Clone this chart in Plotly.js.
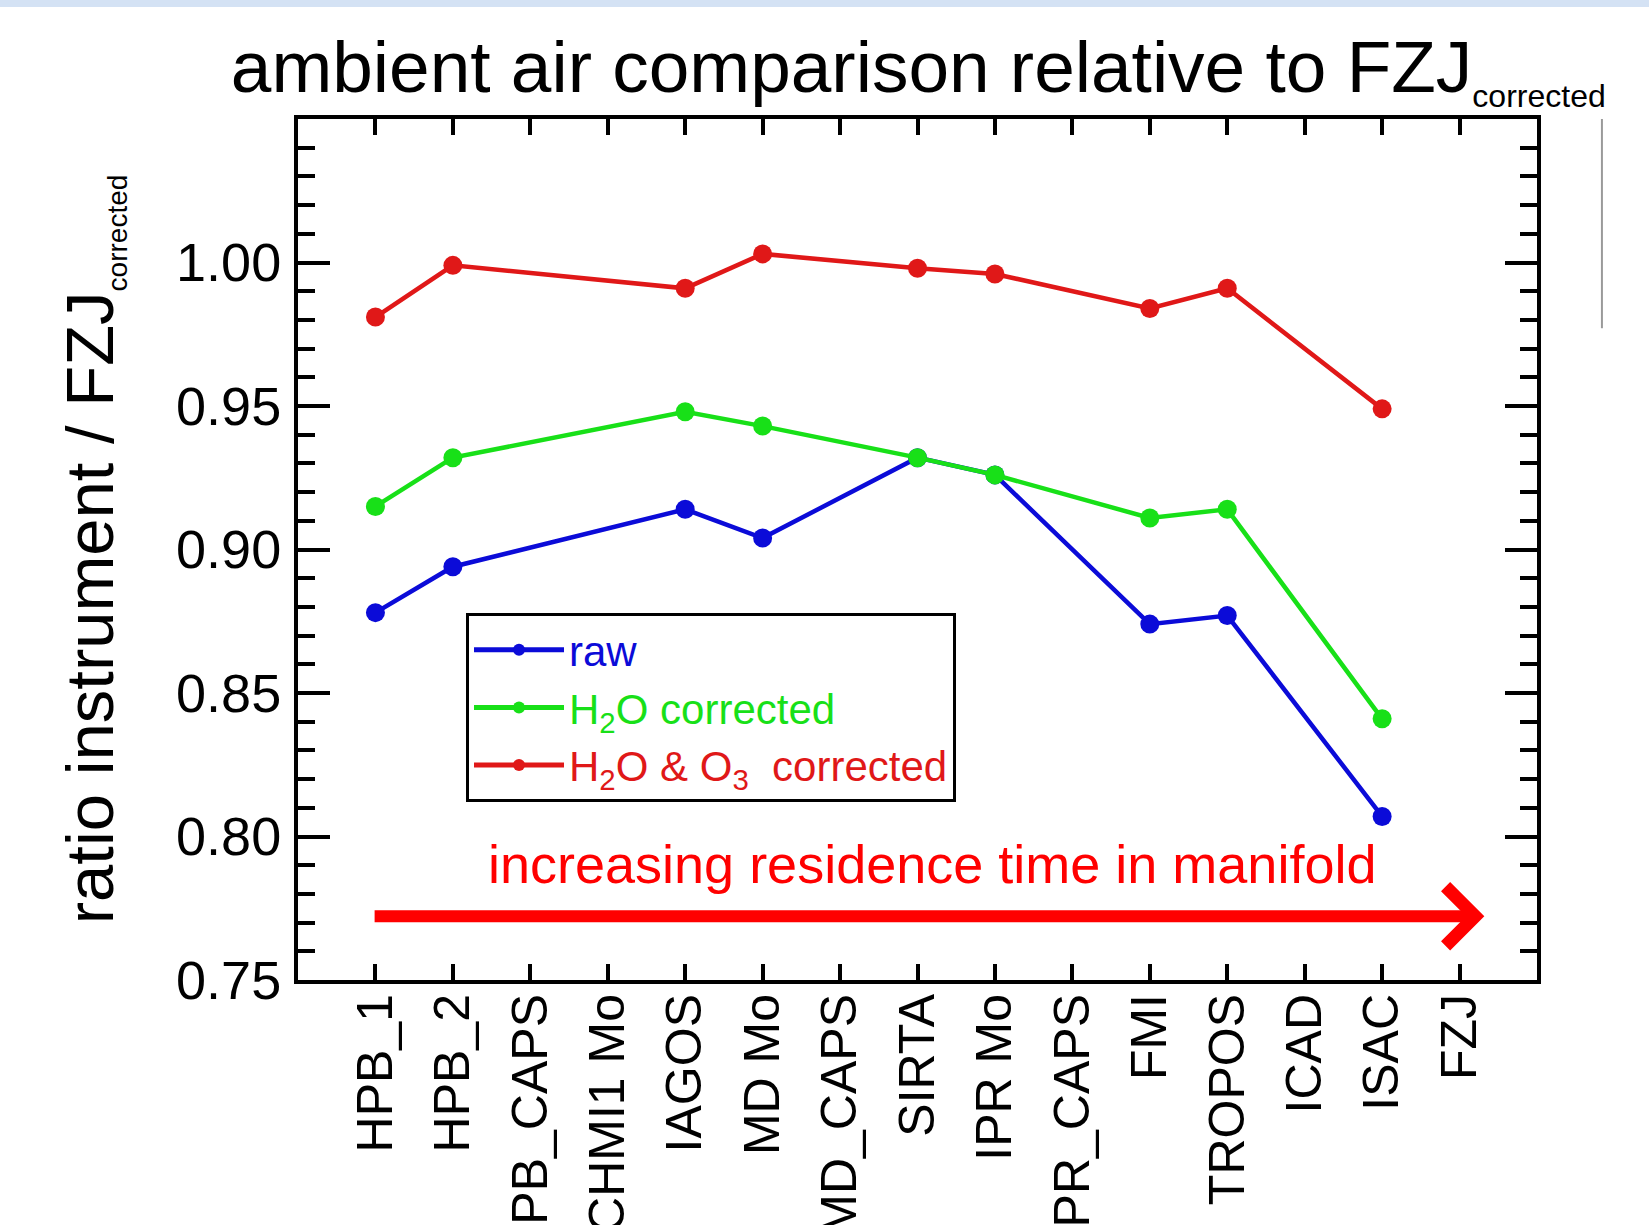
<!DOCTYPE html>
<html>
<head>
<meta charset="utf-8">
<script src="https://cdn.plot.ly/plotly-3.0.1.min.js"></script>
<style>
  html, body { margin: 0; padding: 0; background: #ffffff; }
  #chart { width: 1649px; height: 1225px; }
</style>
</head>
<body>
<div id="chart"></div>
<script>
// ---- data ----
const categories = ['HPB_1', 'HPB_2', 'HPB_CAPS', 'CHMI1 Mo', 'IAGOS', 'MD Mo', 'MD_CAPS',
                    'SIRTA', 'IPR Mo', 'IPR_CAPS', 'FMI', 'TROPOS', 'ICAD', 'ISAC', 'FZJ'];
const rawRatio     = [0.878, 0.894, null, null, 0.914, 0.904, null, 0.932, 0.926, null, 0.874, 0.877, null, 0.807, null];
const h2oRatio     = [0.915, 0.932, null, null, 0.948, 0.943, null, 0.932, 0.926, null, 0.911, 0.914, null, 0.841, null];
const h2oO3Ratio   = [0.981, 0.999, null, null, 0.991, 1.003, null, 0.998, 0.996, null, 0.984, 0.991, null, 0.949, null];
const seriesNames  = ['<span style="color:#0b0bd8">raw</span>',
                      '<span style="color:#18e018">H<sub>2</sub>O corrected</span>',
                      '<span style="color:#e01818">H<sub>2</sub>O &amp; O<sub>3</sub>  corrected</span>'];
const yTickVals    = [0.75, 0.80, 0.85, 0.90, 0.95, 1.00];

const FONT = '"Liberation Sans", Arial, Helvetica, sans-serif';
const colors = ['#0b0bd8', '#18e018', '#e01818'];
const seriesData = [rawRatio, h2oRatio, h2oO3Ratio];

const traces = seriesData.map((vals, i) => ({
  type: 'scatter',
  mode: 'lines+markers',
  x: categories,
  y: vals,
  name: seriesNames[i],
  connectgaps: true,
  line: { color: colors[i], width: 4.5 },
  marker: { color: colors[i], size: 19 },
  xaxis: 'x', yaxis: 'y'
}));

const majorIdx = categories.map((c, i) => i).filter(i => i % 5 === 0);

const layout = {
  width: 1649, height: 1225,
  margin: { l: 298, r: 112, t: 119, b: 245 },
  paper_bgcolor: '#ffffff', plot_bgcolor: '#ffffff',
  font: { family: FONT, color: '#000000' },
  showlegend: true,
  title: {
    text: 'ambient air comparison relative to FZJ<sub><span style="font-size:32px">corrected</span></sub>',
    font: { family: FONT, size: 73, color: '#000000' },
    xref: 'container', yref: 'container',
    x: 0.14, xanchor: 'left', y: 0.946, yanchor: 'middle'
  },
  xaxis: {
    type: 'category',
    categoryorder: 'array', categoryarray: categories,
    range: [-1, 15],
    tickmode: 'array', tickvals: categories, ticktext: categories,
    tickangle: -90,
    tickfont: { family: FONT, size: 50, color: '#000000' },
    ticks: 'inside', ticklen: 16, tickwidth: 4, tickcolor: '#000000',
    showline: true, linecolor: '#000000', linewidth: 4, mirror: 'ticks',
    showgrid: false, zeroline: false, automargin: false,
    ticklabelstandoff: -10
  },
  xaxis2: {
    overlaying: 'x', side: 'bottom',
    range: [-1, 15],
    tickmode: 'array', tickvals: majorIdx, showticklabels: false,
    ticks: 'inside', ticklen: 34, tickwidth: 4, tickcolor: '#000000',
    showline: true, linecolor: '#000000', linewidth: 4, mirror: 'ticks',
    showgrid: false, zeroline: false
  },
  yaxis: {
    range: [0.75, 1.05],
    tickmode: 'array', tickvals: yTickVals, tickformat: '.2f',
    tickfont: { family: FONT, size: 54, color: '#000000' },
    ticks: 'inside', ticklen: 32, tickwidth: 4, tickcolor: '#000000',
    minor: { dtick: 0.01, tick0: 0.75, ticks: 'inside', ticklen: 17, tickwidth: 4, tickcolor: '#000000', showgrid: false },
    showline: true, linecolor: '#000000', linewidth: 4, mirror: 'ticks',
    showgrid: false, zeroline: false, automargin: false,
    ticklabelstandoff: 2,
    title: {
      text: 'ratio instrument / FZJ<sub><span style="font-size:28px">corrected</span></sub>',
      font: { family: FONT, size: 67, color: '#000000' },
      standoff: 42
    }
  },
  legend: {
    x: 0.1356, y: 0.4262, xanchor: 'left', yanchor: 'top',
    xref: 'paper', yref: 'paper',
    bgcolor: '#ffffff', bordercolor: '#000000', borderwidth: 3,
    font: { family: FONT, size: 42, color: '#000000' },
    itemsizing: 'constant', itemwidth: 90, tracegroupgap: 0
  },
  annotations: [
    {
      xref: 'x', yref: 'y', x: 7.19, y: 0.7905,
      text: 'increasing residence time in manifold',
      showarrow: false,
      font: { family: FONT, size: 54, color: '#ff0000' },
      xanchor: 'center', yanchor: 'middle'
    },
    {
      xref: 'x', yref: 'y', axref: 'x', ayref: 'y',
      x: 14.32, y: 0.7722, ax: -0.03, ay: 0.7722,
      text: '', showarrow: true,
      arrowhead: 4, arrowsize: 0.95, arrowwidth: 12, arrowcolor: '#ff0000',
      standoff: 0, startstandoff: 0
    }
  ],
  shapes: [
    { type: 'rect', xref: 'paper', yref: 'paper', x0: -0.25, x1: 1.1, y0: 1.130, y1: 1.15,
      fillcolor: '#d4e2f4', line: { width: 0 }, layer: 'above' },
    { type: 'line', xref: 'paper', yref: 'paper', x0: 1.0524, x1: 1.0524, y0: 0.757, y1: 1.0,
      line: { color: '#9a9a9a', width: 2 } }
  ]
};

Plotly.newPlot('chart', traces, layout, { displayModeBar: false, staticPlot: true });
</script>
</body>
</html>
